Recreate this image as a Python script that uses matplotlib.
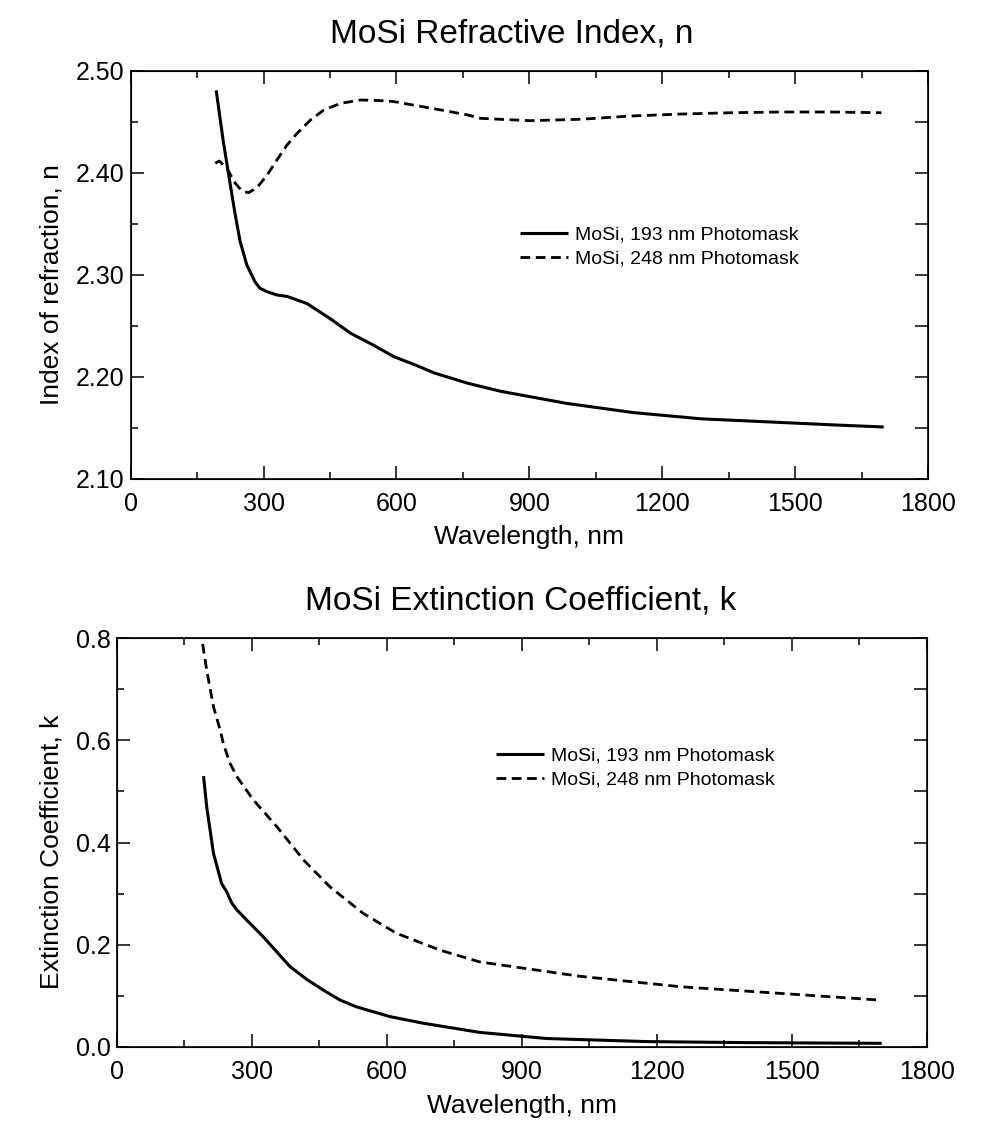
import numpy as np
import matplotlib
matplotlib.use("Agg")
import matplotlib.pyplot as plt
from matplotlib.ticker import MultipleLocator

plt.rcParams['font.family'] = ['Liberation Sans', 'DejaVu Sans']

# ---- data: refractive index n ----
n193_wl = [193, 209, 225, 236, 247, 262, 281, 292, 308, 330, 353, 398, 451, 496, 549, 594, 647, 685,
           760, 835, 986, 1137, 1288, 1439, 1589, 1700]
n193_val = [2.481, 2.431, 2.388, 2.359, 2.333, 2.310, 2.293, 2.287, 2.2836, 2.2804, 2.279, 2.272, 2.257,
            2.243, 2.231, 2.220, 2.211, 2.204, 2.194, 2.186, 2.174, 2.165, 2.159, 2.156, 2.153, 2.151]
n248_wl = [191, 200, 217, 236, 251, 266, 285, 308, 330, 353, 376, 406, 436, 474, 519, 564, 594, 685,
           760, 790, 836, 903, 1017, 1130, 1243, 1356, 1469, 1582, 1695]
n248_val = [2.4095, 2.4118, 2.4046, 2.390, 2.3824, 2.3807, 2.3856, 2.398, 2.4127, 2.4275, 2.439, 2.452,
            2.4618, 2.4683, 2.4716, 2.471, 2.470, 2.463, 2.457, 2.4536, 2.4526, 2.4513, 2.4527, 2.4559,
            2.4578, 2.4591, 2.4598, 2.4598, 2.4591]

# ---- data: extinction coefficient k ----
k193_wl = [193, 200, 215, 233, 244, 256, 267, 289, 326, 385, 422, 459, 496, 533, 607, 681, 807, 956,
           1178, 1400, 1700]
k193_val = [0.530, 0.470, 0.379, 0.320, 0.304, 0.281, 0.268, 0.248, 0.215, 0.157, 0.132, 0.111, 0.0915,
            0.078, 0.059, 0.046, 0.028, 0.016, 0.010, 0.008, 0.0066]
k248_wl = [191, 200, 215, 230, 237, 244, 252, 267, 304, 356, 415, 474, 548, 622, 719, 807, 1029, 1252,
           1474, 1692]
k248_val = [0.789, 0.738, 0.666, 0.620, 0.594, 0.575, 0.555, 0.529, 0.483, 0.431, 0.366, 0.313, 0.261,
            0.222, 0.189, 0.166, 0.138, 0.1175, 0.1045, 0.0915]

labels = ["MoSi, 193 nm Photomask", "MoSi, 248 nm Photomask"]
xticks = [0, 300, 600, 900, 1200, 1500, 1800]

W, H = 988, 1138
fig = plt.figure(figsize=(W / 100, H / 100), dpi=100)


def px_axes(l, t, r, b):
    return fig.add_axes([l / W, 1 - b / H, (r - l) / W, (b - t) / H])


def style(ax, ylim, ymaj, ymin, yright, fmt):
    ax.set_xlim(0, 1800)
    ax.set_ylim(*ylim)
    ax.set_xticks(xticks)
    ax.xaxis.set_minor_locator(MultipleLocator(150))
    ax.yaxis.set_major_locator(MultipleLocator(ymaj))
    ax.yaxis.set_minor_locator(MultipleLocator(ymin))
    ax.yaxis.set_major_formatter(plt.FormatStrFormatter(fmt))
    ax.tick_params(which='both', direction='in', top=True, right=False, width=1.1)
    ax.tick_params(which='major', length=9.5, labelsize=18)
    ax.tick_params(which='minor', length=5)
    ax.tick_params(axis='x', pad=9.5)
    ax.tick_params(axis='y', pad=4.5)
    for s in ax.spines.values():
        s.set_linewidth(1.2)
    ax2 = ax.twinx()
    ax2.set_ylim(*ylim)
    ax2.yaxis.set_major_locator(MultipleLocator(yright))
    ax2.tick_params(direction='in', length=9.5, width=1.1, labelright=False)
    ax2.yaxis.set_minor_locator(plt.NullLocator())


def add_legend(ax, x, y):
    ax.legend(frameon=False, loc='upper left', fontsize=14,
              bbox_to_anchor=(x / W, 1 - y / H), bbox_transform=fig.transFigure,
              handlelength=2.47, handletextpad=0.36, labelspacing=0.33,
              borderpad=0, borderaxespad=0)


# top plot
ax1 = px_axes(130.7, 71, 928, 479)
ax1.plot(n193_wl, n193_val, color='black', lw=2.2, solid_capstyle='butt', label=labels[0])
ax1.plot(n248_wl, n248_val, color='black', lw=2.0, dashes=(3.5, 2.0), label=labels[1])
style(ax1, (2.10, 2.50), 0.1, 0.05, 0.05, '%.2f')
ax1.set_xlabel("Wavelength, nm", fontsize=19, labelpad=6.5)
fig.text(52 / W, 1 - 285 / H, "Index of refraction, n", fontsize=19, rotation=90,
         ha='center', va='center')
add_legend(ax1, 520, 226)
fig.text(512 / W, 1 - 34 / H, "MoSi Refractive Index, n", fontsize=24, ha='center', va='center')

# bottom plot
ax3 = px_axes(116.7, 638.3, 926.7, 1046.7)
ax3.plot(k193_wl, k193_val, color='black', lw=2.2, solid_capstyle='butt', label=labels[0])
ax3.plot(k248_wl, k248_val, color='black', lw=2.0, dashes=(3.5, 2.0), label=labels[1])
style(ax3, (0.0, 0.8), 0.2, 0.1, 0.1, '%.1f')
ax3.set_xlabel("Wavelength, nm", fontsize=19, labelpad=7.5)
fig.text(51 / W, 1 - 851.5 / H, "Extinction Coefficient, k", fontsize=19, rotation=90,
         ha='center', va='center')
add_legend(ax3, 496, 747)
fig.text(521 / W, 1 - 601 / H, "MoSi Extinction Coefficient, k", fontsize=24, ha='center', va='center')

fig.savefig("out.png", dpi=100)
